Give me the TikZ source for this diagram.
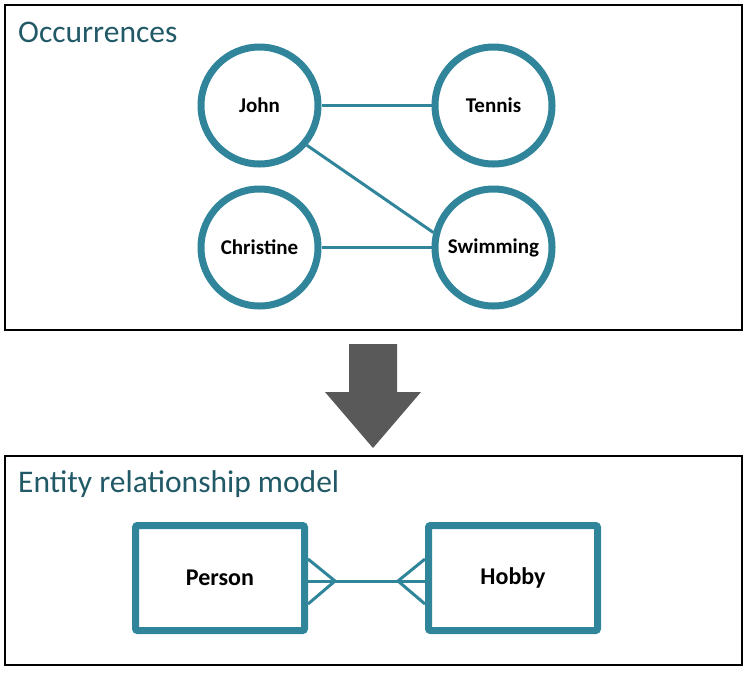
\documentclass[tikz,border=0pt]{standalone}
\usepackage{fontspec}
\setmainfont{Carlito}
\usepackage{tikz}
\usetikzlibrary{positioning}
\definecolor{teal1}{RGB}{49,133,155}
\definecolor{title1}{RGB}{33,89,103}
\definecolor{arrow1}{RGB}{89,89,89}
\tikzset{
  occ/.style={draw=teal1, circle, line width=7pt, minimum size=117pt, inner sep=0pt, font=\fontsize{21}{24}\selectfont\bfseries},
  ent/.style={draw=teal1, rectangle, rounded corners=2pt, line width=7pt, minimum width=169pt, minimum height=105pt, font=\fontsize{24}{28}\selectfont\bfseries},
  heading/.style={anchor=base west, inner sep=0pt, text=title1, font=\fontsize{31.5}{36}\selectfont},
  frame/.style={draw=black, line width=2.5pt},
  link/.style={draw=teal1, line width=3pt}
}

\begin{document}
\begin{tikzpicture}[x=1pt, y=-1pt]
\useasboundingbox (0,0) rectangle (747,673);
\draw[frame] (5,5) rectangle (742,330);
\draw[frame] (5,456) rectangle (742,665);
\node[heading] (t1) at (18,42) {Occurrences};
\node[heading] (t2) at (18,492) {Entity relationship model};
\node[occ] (john) at (259.5,105.5) {John};
\node[occ] (tennis) at (493.5,105.5) {Tennis};
\node[occ] (christine) at (259.5,247.5) {Christine};
\node[occ] (swim) at (493.5,247.5) {Swimming};
\draw[link] (john) -- (tennis);
\draw[link] (john.-40) -- (swim.166);
\draw[link] (christine) -- (swim);
\fill[arrow1] (349,344) -- (397,344) -- (397,392) -- (421,392) -- (373,448) -- (325,392) -- (349,392) -- cycle;
\node[ent] (person) at (220,578) {Person};
\node[ent] (hobby) at (513,578) {Hobby};
\coordinate (pf) at (335,581);
\coordinate (hf) at (398,581);
\draw[link] ([yshift=-3pt]person.east) -- ([yshift=-3pt]hobby.west);
\draw[link] ([yshift=19pt]person.east) -- (pf) -- ([yshift=-26pt]person.east);
\draw[link] ([yshift=19pt]hobby.west) -- (hf) -- ([yshift=-26pt]hobby.west);
\end{tikzpicture}
\end{document}
